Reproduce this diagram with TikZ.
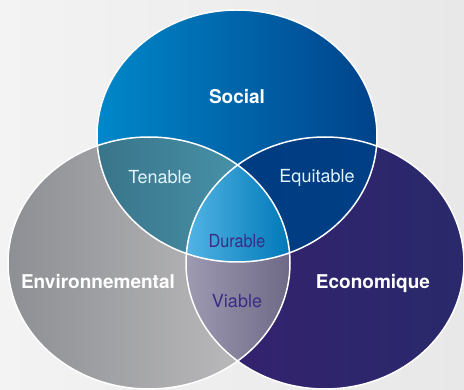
\documentclass[tikz,border=0pt]{standalone}
\usepackage{fontspec}
\setmainfont{TeX Gyre Heros}
\usepackage{tikz}
\usetikzlibrary{positioning}

\definecolor{bgL}{HTML}{F3F3F3}
\definecolor{bgR}{HTML}{E8E8E8}
\definecolor{socL}{HTML}{0088CA}
\definecolor{socR}{HTML}{00428A}
\definecolor{envL}{HTML}{8E8F94}
\definecolor{envR}{HTML}{C2C2C2}
\definecolor{ecoL}{HTML}{36216F}
\definecolor{ecoR}{HTML}{29296B}
\definecolor{tenL}{HTML}{397489}
\definecolor{tenR}{HTML}{4C9BB2}
\definecolor{equL}{HTML}{003A7E}
\definecolor{equR}{HTML}{003F86}
\definecolor{viaL}{HTML}{9E9AB2}
\definecolor{viaR}{HTML}{6E6985}
\definecolor{durL}{HTML}{52B4E4}
\definecolor{durR}{HTML}{0078B8}
\definecolor{durText}{HTML}{3A2C84}

\def\socialE{(237,136) ellipse [x radius=140, y radius=126]}
\def\envE{(149,263) ellipse [x radius=141, y radius=126]}
\def\ecoE{(325,263) ellipse [x radius=139, y radius=126]}

\begin{document}
\begin{tikzpicture}[x=1pt,y=-1pt]
	\tikzset{
		pillar/.style={text=white,font=\fontsize{19}{22}\selectfont\bfseries},
		joint/.style={text=white!88!cyan,font=\fontsize{18}{21}\selectfont},
		core/.style={text=durText,font=\fontsize{18}{21}\selectfont}
	}
	% background
	\shade[left color=bgL,right color=bgR] (0,0) rectangle (464,390);
	\useasboundingbox (0,0) rectangle (464,390);
	% the three circles
	\shade[left color=envL,right color=envR] \envE;
	\shade[left color=ecoL,right color=ecoR] \ecoE;
	\shade[left color=socL,right color=socR] \socialE;
	% pairwise overlaps
	\begin{scope}
		\clip \socialE;
		\clip \envE;
		\shade[left color=tenL,right color=tenR] (96,130) rectangle (290,265);
	\end{scope}
	\begin{scope}
		\clip \socialE;
		\clip \ecoE;
		\shade[left color=equL,right color=equR] (185,130) rectangle (380,265);
	\end{scope}
	\begin{scope}
		\clip \envE;
		\clip \ecoE;
		\shade[left color=viaL,right color=viaR] (186,255) rectangle (290,365);
	\end{scope}
	% centre
	\begin{scope}
		\clip \socialE;
		\clip \envE;
		\clip \ecoE;
		\shade[left color=durL,right color=durR] (186,150) rectangle (290,265);
	\end{scope}
	% outlines
	\draw[white,line width=1.5pt] \envE \ecoE \socialE;
	% labels
	\node[pillar] (social) at (237,97) {Social};
	\node[pillar] (env) at (98,282) {Environnemental};
	\node[pillar] (eco) at (373,283) {Economique};
	\node[joint] (tenable) at (160,177) {Tenable};
	\node[joint] (equitable) at (317,178) {Equitable};
	\node[core,xscale=0.9] (durable) at (237,241) {Durable};
	\node[core] (viable) at (237,301) {Viable};
\end{tikzpicture}
\end{document}
